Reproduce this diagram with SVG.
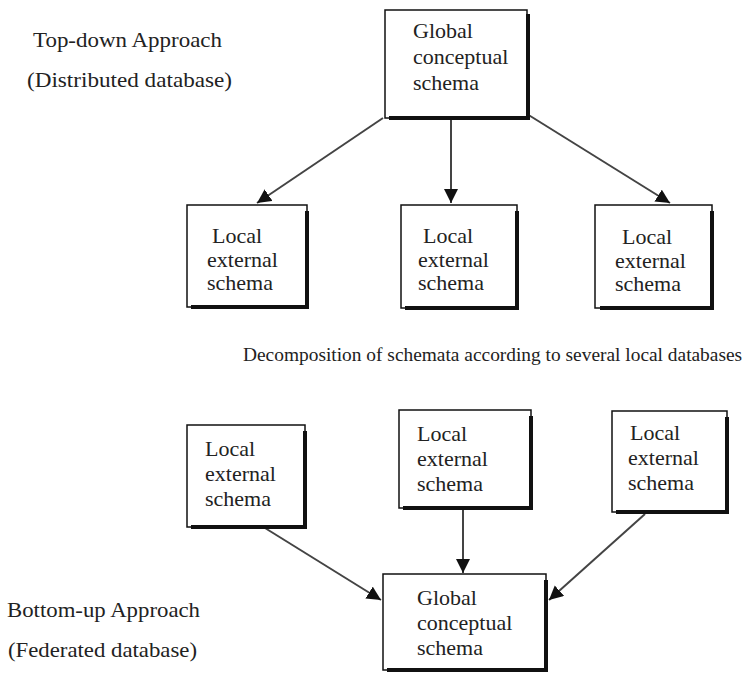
<svg xmlns="http://www.w3.org/2000/svg" width="748" height="674" viewBox="0 0 748 674">
  <style>
    .lbl { font-family: "Liberation Serif", "Times New Roman", serif; font-size: 22px; fill: #222; }
    .head { font-family: "Liberation Serif", "Times New Roman", serif; font-size: 22px; fill: #222; }
    .caption { font-family: "Liberation Serif", "Times New Roman", serif; font-size: 19.4px; fill: #222; }
    .frame { fill: #fff; stroke: #111; stroke-width: 1.5; }
    .shade { stroke: #111; stroke-width: 4; fill: none; }
    .link { stroke: #444; stroke-width: 2; fill: none; marker-end: url(#head); }
  </style>
  <defs>
    <marker id="head" markerUnits="userSpaceOnUse" markerWidth="16" markerHeight="16" refX="14" refY="7" orient="auto">
      <path d="M0,0 L14,7 L0,14 z" fill="#111"/>
    </marker>
  </defs>
  <rect width="748" height="674" fill="#fff"/>

  <!-- section headings -->
  <text class="head" x="33" y="47" textLength="189" lengthAdjust="spacingAndGlyphs">Top-down Approach</text>
  <text class="head" x="27" y="87" textLength="205" lengthAdjust="spacingAndGlyphs">(Distributed database)</text>
  <text class="caption" x="243" y="361">Decomposition of schemata according to several local databases</text>
  <text class="head" x="7" y="617" textLength="193" lengthAdjust="spacingAndGlyphs">Bottom-up Approach</text>
  <text class="head" x="8" y="657" textLength="189" lengthAdjust="spacingAndGlyphs">(Federated database)</text>

  <!-- connectors -->
  <g id="connectors">
    <line class="link" x1="383" y1="118" x2="257" y2="203"/>
    <line class="link" x1="451" y1="120" x2="451" y2="203"/>
    <line class="link" x1="527" y1="114" x2="670" y2="203"/>
    <line class="link" x1="265" y1="528" x2="381" y2="600"/>
    <line class="link" x1="463" y1="510" x2="463" y2="573"/>
    <line class="link" x1="645" y1="514" x2="549" y2="600"/>
  </g>

  <!-- top-down: global schema -->
  <g id="global-top">
    <rect class="frame" x="385" y="10" width="142" height="108"/>
    <path class="shade" d="M389,118 H528 V14"/>
    <text class="lbl" x="413" y="38">Global</text>
    <text class="lbl" x="413" y="64">conceptual</text>
    <text class="lbl" x="413" y="90">schema</text>
  </g>

  <g id="local-top-1">
    <rect class="frame" x="187" y="205" width="120" height="102"/>
    <path class="shade" d="M191,307 H307 V211"/>
    <text class="lbl" x="212" y="243">Local</text>
    <text class="lbl" x="207" y="267">external</text>
    <text class="lbl" x="207" y="290">schema</text>
  </g>

  <g id="local-top-2">
    <rect class="frame" x="401" y="205" width="116" height="103"/>
    <path class="shade" d="M405,308 H517 V211"/>
    <text class="lbl" x="423" y="243">Local</text>
    <text class="lbl" x="418" y="267">external</text>
    <text class="lbl" x="418" y="290">schema</text>
  </g>

  <g id="local-top-3">
    <rect class="frame" x="595" y="205" width="117" height="103"/>
    <path class="shade" d="M600,308 H712 V211"/>
    <text class="lbl" x="622" y="244">Local</text>
    <text class="lbl" x="615" y="268">external</text>
    <text class="lbl" x="615" y="291">schema</text>
  </g>

  <!-- bottom-up: local schemata -->
  <g id="local-bottom-1">
    <rect class="frame" x="187" y="425" width="118" height="102"/>
    <path class="shade" d="M191,527 H305 V431"/>
    <text class="lbl" x="205" y="456">Local</text>
    <text class="lbl" x="205" y="481">external</text>
    <text class="lbl" x="205" y="506">schema</text>
  </g>

  <g id="local-bottom-2">
    <rect class="frame" x="399" y="410" width="132" height="98"/>
    <path class="shade" d="M403,508 H531 V416"/>
    <text class="lbl" x="417" y="441">Local</text>
    <text class="lbl" x="417" y="466">external</text>
    <text class="lbl" x="417" y="491">schema</text>
  </g>

  <g id="local-bottom-3">
    <rect class="frame" x="612" y="411" width="115" height="101"/>
    <path class="shade" d="M616,512 H727 V417"/>
    <text class="lbl" x="630" y="440">Local</text>
    <text class="lbl" x="628" y="465">external</text>
    <text class="lbl" x="628" y="490">schema</text>
  </g>

  <g id="global-bottom">
    <rect class="frame" x="383" y="574" width="163" height="96"/>
    <path class="shade" d="M387,670 H546 V580"/>
    <text class="lbl" x="417" y="605">Global</text>
    <text class="lbl" x="417" y="630">conceptual</text>
    <text class="lbl" x="417" y="655">schema</text>
  </g>
</svg>
